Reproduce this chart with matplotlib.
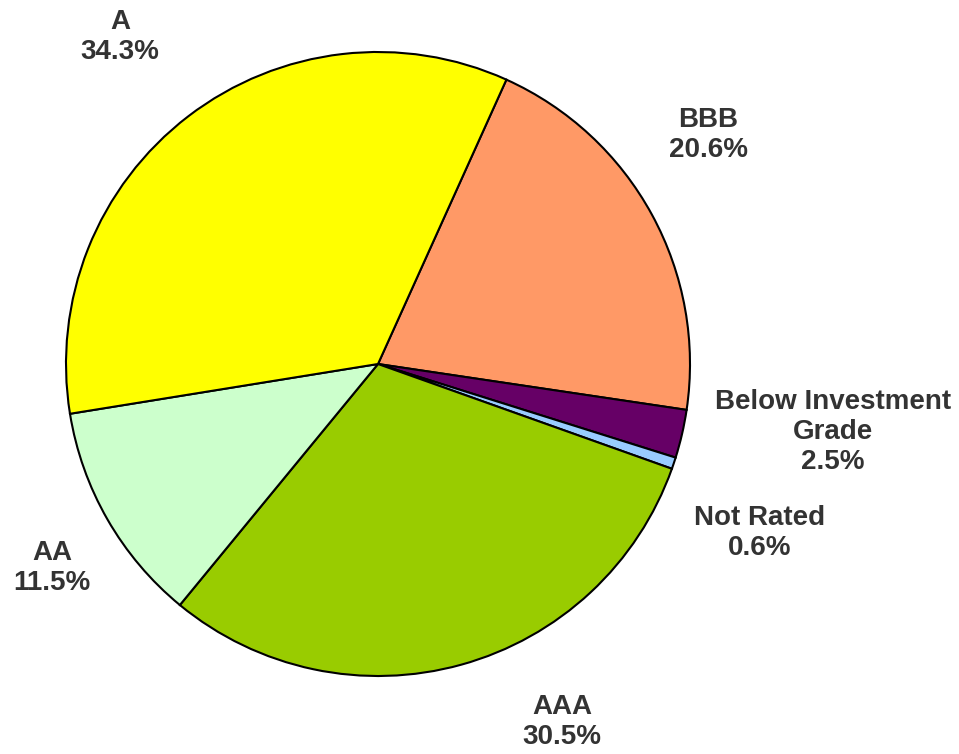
import matplotlib
matplotlib.use("Agg")
import matplotlib.pyplot as plt

# slices in clockwise order, starting at the A/BBB boundary
labels = ["BBB", "Below Investment\nGrade", "Not Rated", "AAA", "AA", "A"]
shares = [20.6, 2.5, 0.6, 30.5, 11.5, 34.3]
colors = ["#FF9966", "#660066", "#99CCFF", "#99CC00", "#CCFFCC", "#FFFF00"]

# label centres in pixels of the 959x754 picture
label_px = [(708, 135), (833, 432), (760, 533), (562, 722), (52, 568), (120, 37)]

W, H = 959, 754
cx, cy, R = 378, 364, 312

fig = plt.figure(figsize=(W / 100, H / 100), dpi=100)
ax = fig.add_axes([0, 0, 1, 1])

ax.pie(shares, colors=colors, startangle=65.7, counterclock=False,
       wedgeprops=dict(edgecolor="black", linewidth=1.5))

ax.set_xlim(-cx / R, (W - cx) / R)
ax.set_ylim((cy - H) / R, cy / R)
ax.set_aspect("equal")
ax.axis("off")

for lab, val, (px, py) in zip(labels, shares, label_px):
    ax.text((px - cx) / R, (cy - py) / R, f"{lab}\n{val:.1f}%",
            ha="center", va="center", fontsize=20, fontweight="bold",
            family="Liberation Sans", color="#333333", linespacing=1.2)

fig.savefig("out.png", dpi=100)
